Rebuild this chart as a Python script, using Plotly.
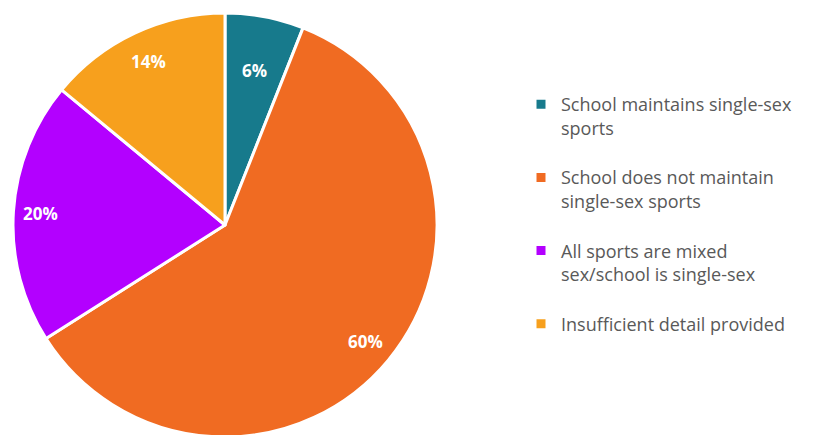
import math
import plotly.graph_objects as go

categories = [
    "School maintains single-sex<br>sports",
    "School does not maintain<br>single-sex sports",
    "All sports are mixed<br>sex/school is single-sex",
    "Insufficient detail provided",
]
values = [6, 60, 20, 14]
colors = ["#177A8C", "#F06B22", "#B300FF", "#F7A01D"]

# layout constants (page body adds an 8px offset)
W, H = 822, 435
cx, cy, r = 217, 217, 212
label_radius = [0.74, 0.86, 0.87, 0.85]

fig = go.Figure(go.Pie(
    labels=[c + "<br> " for c in categories],
    values=values,
    sort=False,
    direction="clockwise",
    rotation=0,
    marker=dict(colors=colors, line=dict(color="white", width=3)),
    textinfo="none",
    domain=dict(x=[(cx - r) / W, (cx + r) / W],
                y=[1 - (cy + r) / H, 1 - (cy - r) / H]),
    hoverinfo="percent",
))

total = sum(values)
cum = 0
for v, f in zip(values, label_radius):
    mid = (cum + v / 2) / total * 2 * math.pi
    cum += v
    px = cx + f * r * math.sin(mid)
    py = cy - f * r * math.cos(mid)
    fig.add_annotation(
        x=px / W, y=1 - py / H, xref="paper", yref="paper",
        xanchor="center", yanchor="middle",
        text=f"{round(v / total * 100)}%", showarrow=False,
        font=dict(family="Open Sans", size=17, color="white", weight="bold"),
    )

fig.update_layout(
    width=W, height=H,
    margin=dict(l=0, r=0, t=0, b=0),
    paper_bgcolor="white",
    plot_bgcolor="white",
    showlegend=True,
    legend=dict(
        x=513 / W, y=1 - 78 / H, xanchor="left", yanchor="top",
        font=dict(family="Open Sans", size=18, color="#595959"),
        valign="top",
        itemwidth=30,
        tracegroupgap=0,
    ),
)

fig.write_html("out.html")
